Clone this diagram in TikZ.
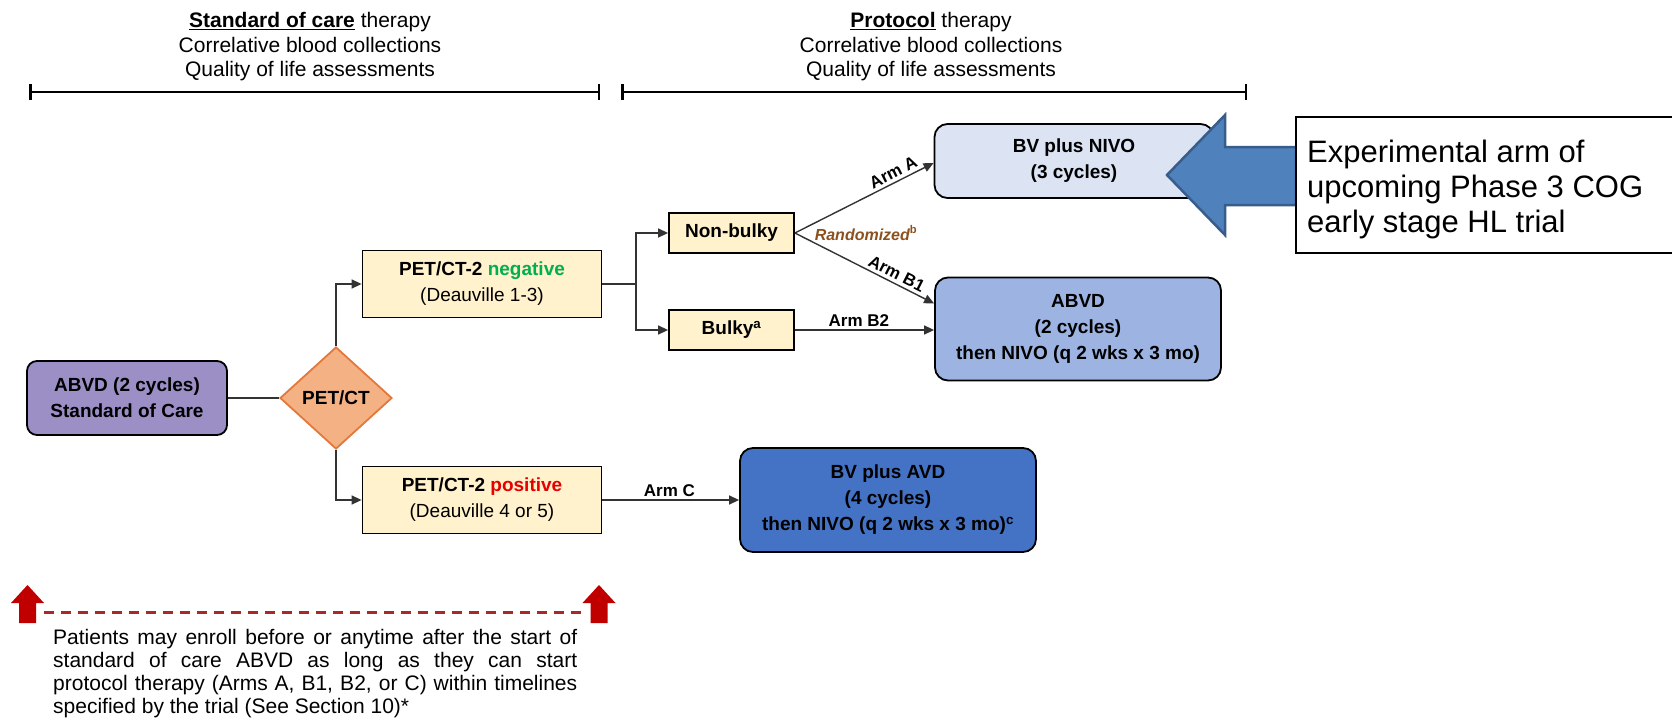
\documentclass[tikz,border=0pt]{standalone}
\usepackage{fontspec}
\setmainfont{Liberation Sans}
\usetikzlibrary{shapes.geometric,arrows.meta}
\newcommand{\fz}[2]{\fontsize{#1}{#2}\selectfont}
\definecolor{purp}{RGB}{155,143,198}
\definecolor{orfill}{RGB}{244,177,131}
\definecolor{ordraw}{RGB}{226,120,60}
\definecolor{cream}{RGB}{255,242,204}
\definecolor{lblue}{RGB}{220,227,243}
\definecolor{mblue}{RGB}{157,180,226}
\definecolor{dblue}{RGB}{68,114,196}
\definecolor{arrowblue}{RGB}{79,129,189}
\definecolor{arrowedge}{RGB}{56,93,138}
\definecolor{neggreen}{RGB}{0,176,80}
\definecolor{posred}{RGB}{230,0,0}
\definecolor{randbrown}{RGB}{140,80,30}
\definecolor{darkred}{RGB}{192,0,0}
\definecolor{dashred}{RGB}{170,40,40}
\begin{document}
\begin{tikzpicture}[x=1pt,y=-1pt,
  box/.style={draw=black, line width=1.8pt, inner sep=0pt, align=center, font=\fz{19}{26}},
  creambox/.style={box, fill=cream, rectangle},
  rbox/.style={box, rounded corners=13pt},
  conn/.style={draw=black!80, line width=1.4pt},
  arr/.style={conn, -{Triangle[length=10pt,width=9pt]}},
  lbl/.style={font=\fz{17}{20}\bfseries, inner sep=3pt},
  toptxt/.style={font=\fz{21}{24.5}, align=center, inner sep=0pt},
  tline/.style={line width=2.5pt, {Bar[width=16pt]}-{Bar[width=16pt]}}
]
\useasboundingbox (0,0) rectangle (1672,717);

% top headings and timelines
\node[toptxt] (soc) at (310,47) {\underline{\textbf{Standard of care}} therapy\\Correlative blood collections\\Quality of life assessments};
\node[toptxt] (prot) at (931,47) {\underline{\textbf{Protocol}} therapy\\Correlative blood collections\\Quality of life assessments};
\coordinate (t1a) at (29,92);
\coordinate (t1b) at (600,92);
\coordinate (t2a) at (621,92);
\coordinate (t2b) at (1247,92);
\draw[tline] (t1a) -- (t1b);
\draw[tline] (t2a) -- (t2b);

% nodes
\node[rbox, fill=purp, rounded corners=10pt, minimum width=200pt, minimum height=74pt] (abvd) at (127,398) {\textbf{ABVD (2 cycles)}\\\textbf{Standard of Care}};
\node[box, diamond, fill=orfill, draw=ordraw, minimum width=112pt, minimum height=102pt] (pet) at (336,398) {\textbf{PET/CT}};
\node[creambox, minimum width=239pt, minimum height=67pt] (neg) at (482,284) {\textbf{PET/CT-2 \textcolor{neggreen}{negative}}\\(Deauville 1-3)};
\node[creambox, minimum width=239pt, minimum height=67pt] (pos) at (482,500) {\textbf{PET/CT-2 \textcolor{posred}{positive}}\\(Deauville 4 or 5)};
\node[creambox, minimum width=125pt, minimum height=40pt] (nonbulky) at (731.5,233) {\textbf{Non-bulky}};
\node[creambox, minimum width=125pt, minimum height=40pt] (bulky) at (731.5,330) {\textbf{Bulky\textsuperscript{a}}};
\node[rbox, fill=lblue, minimum width=279pt, minimum height=74pt] (bvnivo) at (1074,161) {\textbf{BV plus NIVO}\\\textbf{(3 cycles)}};
\node[rbox, fill=mblue, minimum width=286pt, minimum height=103pt] (abvdnivo) at (1078,329) {\textbf{ABVD}\\\textbf{(2 cycles)}\\\textbf{then NIVO (q 2 wks x 3 mo)}};
\node[rbox, fill=dblue, minimum width=296pt, minimum height=104pt] (bvavd) at (888,500) {\textbf{BV plus AVD}\\\textbf{(4 cycles)}\\\textbf{then NIVO (q 2 wks x 3 mo)\textsuperscript{c}}};

% connectors
\draw[conn] (abvd.east) -- (pet.west);
\draw[arr] (pet.north) |- (neg.west);
\draw[arr] (pet.south) |- (pos.west);
\coordinate (split) at (636,284);
\draw[conn] (neg.east) -- (split);
\draw[arr] (split) |- (nonbulky.west);
\draw[arr] (split) |- (bulky.west);
\draw[arr] (nonbulky.east) -- node[lbl, sloped, above, pos=0.74] {Arm A} ([yshift=-2pt]bvnivo.west);
\draw[arr] (nonbulky.east) -- node[lbl, sloped, above, pos=0.7] {Arm B1} ([yshift=25.5pt]abvdnivo.west);
\draw[arr] (bulky.east) -- node[lbl, above, pos=0.46] {Arm B2} (abvdnivo.west |- bulky.east);
\draw[arr] (pos.east) -- node[lbl, above, pos=0.49] {Arm C} (bvavd.west);
\node[font=\fz{16}{18}\bfseries\itshape, text=randbrown, inner sep=0pt] (rand) at (866,233) {Randomized\textsuperscript{\upshape b}};

% callout
\filldraw[fill=arrowblue, draw=arrowedge, line width=2.5pt, line join=miter]
  (1167,175) -- (1225,115) -- (1225,147) -- (1296,147) -- (1296,205) -- (1225,205) -- (1225,235) -- cycle;
\node[draw=black, line width=2pt, fill=white, minimum width=380pt, minimum height=136pt, anchor=north west, inner sep=0pt] (expbox) at (1295,116) {};
\node[anchor=north west, align=left, inner sep=0pt, font=\fz{31}{35}] (exptext) at (1307,139.5) {Experimental arm of\\upcoming Phase 3 COG\\early stage HL trial};

% enrollment window
\fill[darkred] (27.5,585) -- (44,603) -- (36,603) -- (36,623) -- (19,623) -- (19,603) -- (11,603) -- cycle;
\fill[darkred] (599,585) -- (615.5,603) -- (607.5,603) -- (607.5,623) -- (590.5,623) -- (590.5,603) -- (582.5,603) -- cycle;
\coordinate (enrL) at (44,612);
\coordinate (enrR) at (582,612);
\draw[dashred, line width=3pt, dash pattern=on 10pt off 7pt] (enrL) -- (enrR);
\node[anchor=north west, text width=524pt, align=justify, inner sep=0pt, font=\fz{21}{23}] (note) at (53,628.7) {Patients may enroll before or anytime after the start of\linebreak standard of care ABVD as long as they can start\linebreak protocol therapy (Arms A, B1, B2, or C) within timelines\linebreak specified by the trial (See Section 10)*};
\end{tikzpicture}
\end{document}
